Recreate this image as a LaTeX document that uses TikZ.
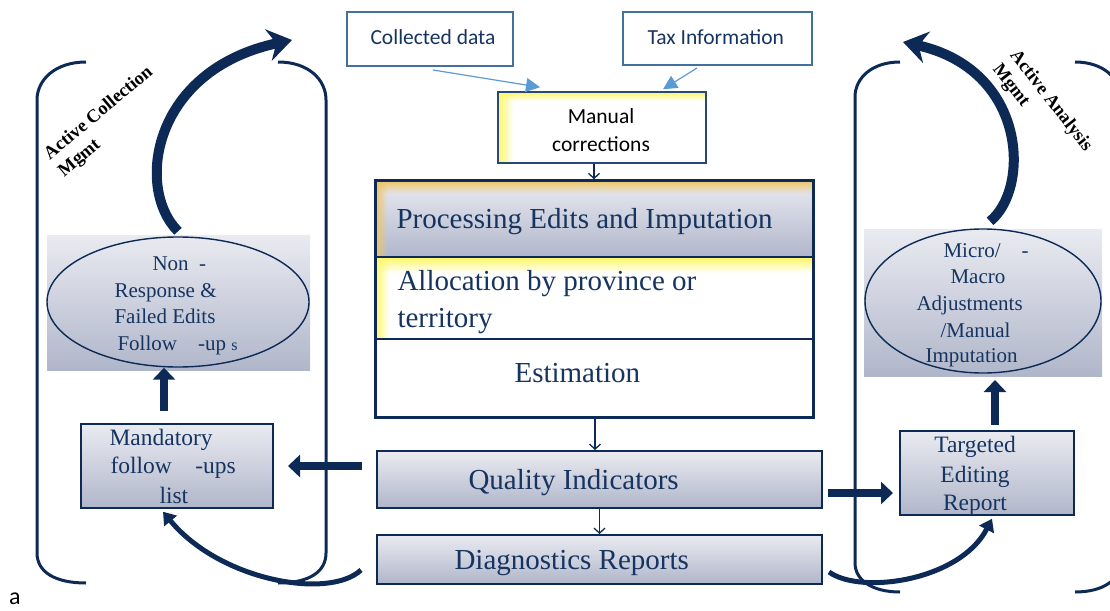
\documentclass[tikz,border=0pt]{standalone}
\usepackage{fontspec}
\setmainfont{Liberation Serif}
\newfontfamily\calibri{Carlito}
\usetikzlibrary{arrows.meta,shapes.geometric,fadings}

\definecolor{navy}{RGB}{12,42,85}
\definecolor{txtnavy}{RGB}{22,52,96}
\definecolor{steel}{RGB}{65,113,156}
\definecolor{skyblue}{RGB}{91,155,213}
\definecolor{corrline}{RGB}{40,72,120}
\definecolor{shadetop}{RGB}{234,235,241}
\definecolor{shadebot}{RGB}{176,182,202}
\definecolor{glowgold}{RGB}{238,198,105}
\definecolor{glowyellow}{RGB}{255,248,110}

\tikzfading[name=fadedown, top color=transparent!0, bottom color=transparent!100]
\tikzfading[name=faderight, left color=transparent!0, right color=transparent!100]

\tikzset{
  bracket/.style={draw=navy, line width=3pt},
  bluebox/.style={draw=steel, line width=2pt, fill=white, inner sep=0pt},
  corrbox/.style={draw=corrline, line width=1.5pt, fill=white, inner sep=0pt},
  shadebox/.style={draw=navy, line width=1.6pt, top color=shadetop, bottom color=shadebot, inner sep=0pt},
  rowbox/.style={draw=navy, line width=1.5pt, inner sep=0pt, minimum width=438pt},
  oval/.style={ellipse, draw=navy, line width=1.4pt, inner sep=0pt},
  sanslabel/.style={font={\calibri\fontsize{21.5}{26}\selectfont}},
  bigserif/.style={anchor=base west, text=txtnavy, font={\fontsize{29}{34}\selectfont}},
  midserif/.style={anchor=base west, text=txtnavy, font={\fontsize{23.5}{28}\selectfont}},
  ovalserif/.style={anchor=base west, text=txtnavy, font={\fontsize{21}{26}\selectfont}},
  sidelabel/.style={align=left, text=black, font={\bfseries\fontsize{18.5}{22}\selectfont}},
  thinarrow/.style={draw=navy, line width=1.3pt, -{Straight Barb[length=5pt,width=11pt]}},
  lightarrow/.style={draw=skyblue, line width=1.2pt, -{Triangle[length=14pt,width=14pt]}},
  fatarrow/.style={draw=navy, line width=8pt, -{Triangle[length=12pt,width=22pt]}},
  swoosh/.style={draw=navy, line width=5pt, -{Triangle[length=12pt,width=16pt]}},
  bigcurve/.style={draw=navy, line width=10pt, -{Stealth[length=24pt,width=32pt,inset=8pt]}}
}

\begin{document}
\begin{tikzpicture}[x=1pt,y=-1pt]
\useasboundingbox (0,0) rectangle (1110,610);

% --- the two bracket pairs ---
\draw[bracket] (86,62) .. controls (55,62) and (37,80) .. (37,100) -- (37,553) .. controls (37,572) and (55,583) .. (86,583);
\draw[bracket] (278,62) .. controls (309,62) and (326,80) .. (326,100) -- (326,553) .. controls (326,572) and (309,583) .. (278,583);
\draw[bracket] (900,62) .. controls (872,62) and (855,78) .. (855,97) -- (855,563) .. controls (855,580) and (872,592) .. (900,592);
\draw[bracket] (1075,62) .. controls (1103,62) and (1120,78) .. (1120,97) -- (1120,563) .. controls (1120,580) and (1103,592) .. (1075,592);

% --- inputs ---
\node[bluebox, minimum width=166pt, minimum height=54pt] (coll) at (430,39) {};
\node[sanslabel, anchor=base west, text=txtnavy] (colltxt) at (367,45) {Collected data};
\node[bluebox, minimum width=189pt, minimum height=53pt] (tax) at (717.5,38.5) {};
\node[sanslabel, anchor=base west, text=txtnavy] (taxtxt) at (644,45) {Tax Information};

\node[corrbox, minimum width=208pt, minimum height=71pt] (manual) at (602,127.5) {};
\fill[glowyellow, path fading=faderight] (499,93) rectangle (513,162);
\fill[glowyellow, path fading=fadedown] (499,93) rectangle (705,101);
\node[sanslabel, anchor=base, text=black] (mantxtA) at (601,123) {Manual};
\node[sanslabel, anchor=base, text=black] (mantxtB) at (601,151) {corrections};

\draw[lightarrow] ([xshift=3pt,yshift=-3pt]coll.south) -- ([xshift=-62pt,yshift=4pt]manual.north);
\draw[lightarrow] ([xshift=-20.5pt,yshift=-2pt]tax.south) -- ([xshift=61pt,yshift=2pt]manual.north);

% --- core processing block ---
\node[rowbox, minimum height=77pt, top color=shadetop, bottom color=shadebot] (procrow) at (594,218.5) {};
\node[rowbox, minimum height=82pt, fill=white] (allocrow) at (594,298) {};
\node[rowbox, minimum height=78pt, fill=white] (estrow) at (594,378) {};
\fill[glowgold, path fading=fadedown] (376,181) rectangle (812,194);
\fill[glowgold, path fading=faderight] (376,181) rectangle (387,256);
\fill[glowyellow, path fading=fadedown] (376,258) rectangle (812,273);
\fill[glowyellow, path fading=faderight] (376,258) rectangle (389,338);
\node[draw=navy, line width=3pt, minimum width=438pt, minimum height=237pt, inner sep=0pt] (core) at (594,298.5) {};
\node[bigserif] (proctxt) at (393,228) {Processing Edits and Imputation};
\node[bigserif] (alloctxtA) at (394,290) {Allocation by province or};
\node[bigserif] (alloctxtB) at (394,327) {territory};
\node[bigserif] (esttxt) at (511,382) {Estimation};

\draw[thinarrow] (manual.south -| procrow.north) -- (procrow.north);

% --- outputs ---
\node[shadebox, line width=2pt, minimum width=445pt, minimum height=57pt] (qual) at (599.5,479.5) {};
\node[bigserif] (qualtxt) at (465,489) {Quality Indicators};
\node[shadebox, line width=2pt, minimum width=445pt, minimum height=49pt] (diag) at (599.5,559.5) {};
\node[bigserif] (diagtxt) at (451,569) {Diagnostics Reports};

\draw[thinarrow] (core.south -| 595,0) -- (qual.north -| 595,0);
\draw[thinarrow] (qual.south) -- (diag.north);

% --- collection side ---
\shade[top color=shadetop, bottom color=shadebot] (47,235) rectangle (310,370);
\node[oval, minimum width=262pt, minimum height=130pt] (ellL) at (178,302) {};
\node[ovalserif] (ellLa) at (149,270) {Non~~-};
\node[ovalserif] (ellLb) at (111,297) {Response \&};
\node[ovalserif] (ellLc) at (111,323) {Failed Edits};
\node[ovalserif] (ellLd) at (114,350) {Follow~~~~-up {\fontsize{16}{16}\selectfont s}};

\node[shadebox, line width=1.5pt, minimum width=192pt, minimum height=84pt] (mand) at (177,466) {};
\node[midserif] (mandA) at (106,445) {Mandatory};
\node[midserif] (mandB) at (107,473) {follow~~~~-ups};
\node[midserif] (mandC) at (156,503) {list};

% --- analysis side ---
\shade[top color=shadetop, bottom color=shadebot] (864,229) rectangle (1102,376);
\node[oval, minimum width=236pt, minimum height=144pt] (ellR) at (983,301) {};
\node[ovalserif] (ellRa) at (940,257) {Micro/~~~~-};
\node[ovalserif] (ellRb) at (947,283) {Macro};
\node[ovalserif] (ellRc) at (913,310) {Adjustments};
\node[ovalserif] (ellRd) at (937,337) {/Manual};
\node[ovalserif] (ellRe) at (922,362) {Imputation};

\node[shadebox, line width=1.5pt, minimum width=174pt, minimum height=84pt] (tgt) at (987,473) {};
\node[midserif, anchor=base] (tgtA) at (975,452) {Targeted};
\node[midserif, anchor=base] (tgtB) at (975,482) {Editing};
\node[midserif, anchor=base] (tgtC) at (975,510) {Report};

% --- block arrows ---
\coordinate (mandUp) at (164,411);
\draw[fatarrow] (mandUp) -- (mandUp |- ellL.south);
\coordinate (qualLeft) at (362,466);
\coordinate (mandIn) at (288,466);
\draw[fatarrow] (qualLeft) -- (mandIn);
\coordinate (tgtUp) at (995,425);
\coordinate (ellRin) at (995,380);
\draw[fatarrow] (tgtUp) -- (ellRin);
\coordinate (qualRight) at (828,493);
\coordinate (tgtIn) at (893,493);
\draw[fatarrow] (qualRight) -- (tgtIn);

% --- curved feedback arrows ---
\draw[swoosh] ([xshift=-15pt,yshift=-10.5pt]diag.west) .. controls +(-32,30) and +(57,69) .. ([xshift=-14pt,yshift=-3pt]mand.south);
\draw[swoosh] ([xshift=6pt,yshift=-12.5pt]diag.east) .. controls +(32,23) and +(-32,62) .. ([xshift=5pt,yshift=-3pt]tgt.south);

\coordinate (tipL) at (292,40);
\draw[bigcurve] ([yshift=5pt]ellL.north) .. controls +(-43,-43) and +(-140,30) .. (tipL);
\coordinate (tipR) at (903,42);
\draw[bigcurve] ([xshift=7pt,yshift=7pt]ellR.north) .. controls +(40,-32) and +(125,28) .. (tipR);

% --- side labels ---
\node[sidelabel, rotate=40] (lblL) at (106,122) {Active Collection\\Mgmt};
\node[sidelabel, rotate=-52] (lblR) at (1042,108) {Active Analysis\\Mgmt};

\node[font={\calibri\fontsize{24}{24}\selectfont}, anchor=base west, inner sep=0pt] (alab) at (9,604) {a};
\end{tikzpicture}
\end{document}
